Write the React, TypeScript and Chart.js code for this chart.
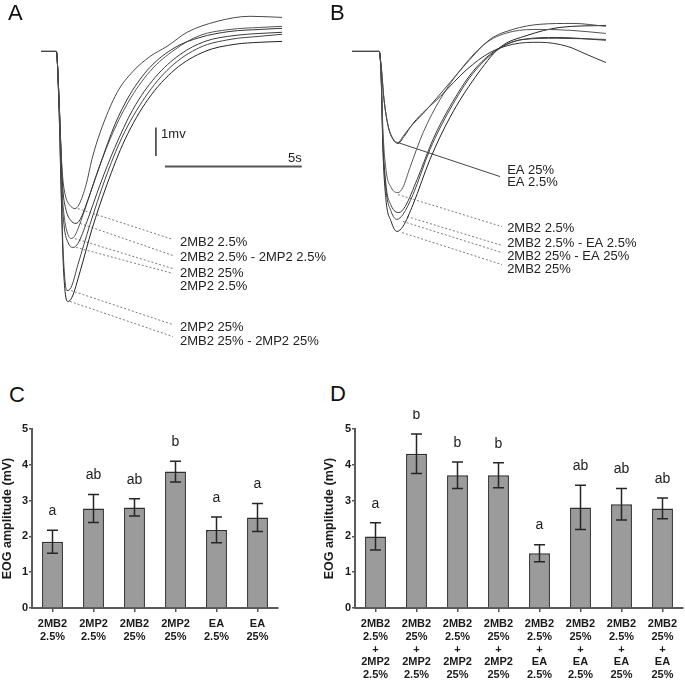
import React, { useEffect, useRef } from 'react';
import { Chart, registerables } from 'chart.js';

Chart.register(...registerables);

type Pt = [number, number];

// ---------- Panel A: EOG traces (time in s, potential in mV) ----------
const traceA_2MB2_2p5: Pt[] = [[0,0],[0.55,0],[0.58,-0.11],[0.66,-1.68],[0.73,-3.43],[0.80,-4.48],[0.91,-5.11],[1.06,-5.39],[1.24,-5.50],[1.39,-5.36],[1.65,-4.66],[1.86,-3.78],[2.16,-2.84],[2.78,-1.44],[3.36,-0.70],[3.98,-0.18],[4.61,0.18],[5.34,0.67],[6.43,1.05],[7.64,1.23],[8.81,1.19]];
const traceA_2MB2_2p5_2MP2_2p5: Pt[] = [[0,0],[0.55,0],[0.58,-0.11],[0.66,-1.68],[0.73,-3.43],[0.80,-4.83],[0.91,-5.53],[1.06,-5.88],[1.28,-6.02],[1.43,-5.88],[1.72,-5.18],[2.16,-3.96],[2.70,-2.56],[3.25,-1.51],[3.98,-0.56],[4.90,0.14],[5.81,0.49],[6.91,0.70],[8.00,0.77],[8.81,0.81]];
const traceA_2MB2_25: Pt[] = [[0,0],[0.55,0],[0.58,-0.11],[0.66,-1.75],[0.73,-3.60],[0.77,-4.83],[0.84,-5.71],[0.95,-6.30],[1.10,-6.55],[1.24,-6.44],[1.54,-5.71],[1.97,-4.48],[2.52,-3.08],[3.18,-1.79],[3.98,-0.70],[4.90,0.07],[5.81,0.56],[6.91,0.77],[8.00,0.84],[8.81,0.88]];
const traceA_2MP2_2p5: Pt[] = [[0,0],[0.55,0],[0.58,-0.11],[0.66,-1.75],[0.73,-3.60],[0.77,-5.01],[0.84,-6.06],[0.99,-6.69],[1.17,-6.86],[1.35,-6.72],[1.68,-5.95],[2.16,-4.66],[2.70,-3.36],[3.36,-2.03],[4.17,-0.91],[5.08,-0.11],[5.99,0.35],[7.09,0.56],[8.00,0.63],[8.81,0.67]];
const traceA_2MP2_25: Pt[] = [[0,0],[0.55,0],[0.58,-0.11],[0.66,-2.03],[0.73,-4.48],[0.80,-6.76],[0.88,-8.05],[0.95,-8.37],[1.10,-8.26],[1.35,-7.46],[1.79,-6.06],[2.34,-4.48],[2.96,-3.01],[3.80,-1.61],[4.72,-0.56],[5.81,0.14],[6.91,0.42],[8.00,0.53],[8.81,0.60]];
const traceA_2MB2_25_2MP2_25: Pt[] = [[0,0],[0.55,0],[0.58,-0.11],[0.66,-2.03],[0.73,-4.66],[0.80,-7.11],[0.88,-8.40],[0.99,-8.75],[1.13,-8.61],[1.43,-7.70],[1.86,-6.23],[2.41,-4.66],[3.07,-3.08],[3.91,-1.68],[4.90,-0.63],[5.99,0],[7.09,0.25],[8.00,0.32],[8.81,0.35]];

const labelsA = ['2MB2 2.5%', '2MB2 2.5% - 2MP2 2.5%', '2MB2 25%', '2MP2 2.5%', '2MP2 25%', '2MB2 25% - 2MP2 25%'];
const labelLevelsA = [-6.69, -7.21, -7.77, -8.23, -9.66, -10.15];
const leadersA: Pt[][] = [
  [[1.35,-5.50],[4.82,-6.58]],
  [[1.43,-6.02],[4.82,-7.14]],
  [[1.24,-6.55],[4.82,-7.60]],
  [[1.28,-6.86],[4.82,-7.77]],
  [[1.10,-8.37],[4.82,-9.56]],
  [[1.06,-8.75],[4.82,-9.98]],
];

// ---------- Panel B: EOG traces ----------
const traceB_EA_25: Pt[] = [[0,0],[0.99,0],[1.06,-0.46],[1.17,-1.68],[1.32,-2.59],[1.50,-3.05],[1.68,-3.19],[1.86,-2.98],[2.12,-2.66],[2.67,-2.10],[3.58,-1.09],[4.31,-0.28],[5.04,0.42],[5.88,0.77],[6.87,0.95],[8.08,0.98],[9.28,0.88]];
const traceB_EA_2p5: Pt[] = [[0,0],[0.99,0],[1.06,-0.46],[1.17,-1.68],[1.32,-2.62],[1.50,-3.08],[1.68,-3.22],[1.90,-2.98],[2.23,-2.52],[3.22,-1.58],[4.20,-0.63],[5.04,-0.04],[5.88,0.25],[6.87,0.32],[7.86,0.18],[8.59,-0.11],[9.28,-0.39]];
const traceB_2MB2_2p5: Pt[] = [[0,0],[0.99,0],[1.06,-0.63],[1.13,-2.73],[1.24,-4.13],[1.43,-4.76],[1.68,-4.94],[1.86,-4.76],[2.12,-4.06],[2.60,-2.84],[3.22,-1.68],[4.06,-0.53],[4.93,0.32],[5.88,0.70],[6.87,0.77],[7.97,0.74],[9.28,0.63]];
const traceB_2MB2_2p5_EA_2p5: Pt[] = [[0,0],[0.99,0],[1.06,-0.70],[1.13,-3.08],[1.24,-4.66],[1.43,-5.39],[1.72,-5.64],[1.94,-5.43],[2.38,-4.48],[2.96,-3.08],[3.58,-1.93],[4.42,-0.70],[5.30,0.07],[6.25,0.42],[7.49,0.49],[9.28,0.39]];
const traceB_2MB2_25_EA_25: Pt[] = [[0,0],[0.99,0],[1.06,-0.70],[1.13,-3.26],[1.24,-4.83],[1.43,-5.60],[1.64,-5.88],[1.86,-5.71],[2.23,-5.01],[2.85,-3.43],[3.58,-2.03],[4.42,-0.77],[5.30,0.04],[6.25,0.42],[7.49,0.46],[9.28,0.42]];
const traceB_2MB2_25: Pt[] = [[0,0],[0.99,0],[1.06,-0.77],[1.13,-3.43],[1.24,-5.18],[1.43,-5.95],[1.64,-6.30],[1.86,-6.13],[2.23,-5.36],[2.85,-3.78],[3.58,-2.31],[4.50,-0.91],[5.41,0.14],[6.40,0.56],[7.60,0.84],[9.28,0.91]];

const labelsB = ['EA 25%', 'EA 2.5%', '2MB2 2.5%', '2MB2 2.5% - EA 2.5%', '2MB2 25% - EA 25%', '2MB2 25%'];
const labelLevelsB = [-4.17, -4.59, -6.20, -6.72, -7.18, -7.63];
const solidLeadersB: Pt[][] = [[[1.68,-3.19],[5.41,-4.38]]];
const leadersB: Pt[][] = [
  [[1.68,-5.01],[5.48,-6.13]],
  [[2.01,-5.78],[5.48,-6.79]],
  [[1.86,-5.95],[5.48,-7.04]],
  [[1.83,-6.34],[5.48,-7.46]],
];

// scale bar (1 mV, 5 s)
const scaleBarV: Pt[] = [[4.20,-2.66],[4.20,-3.66]];
const scaleBarH: Pt[] = [[4.53,-4.03],[9.53,-4.03]];

// ---------- Panel C ----------
const compoundsC = ['2MB2', '2MP2', '2MB2', '2MP2', 'EA', 'EA'];
const concC = ['2.5%', '2.5%', '25%', '25%', '2.5%', '25%'];
const meanC = [1.85, 2.78, 2.81, 3.81, 2.18, 2.53];
const semC = [0.32, 0.39, 0.24, 0.29, 0.36, 0.39];
const sigC = ['a', 'ab', 'ab', 'b', 'a', 'a'];

// ---------- Panel D ----------
const firstD = ['2MB2', '2MB2', '2MB2', '2MB2', '2MB2', '2MB2', '2MB2', '2MB2'];
const firstConcD = ['2.5%', '25%', '2.5%', '25%', '2.5%', '25%', '2.5%', '25%'];
const secondD = ['2MP2', '2MP2', '2MP2', '2MP2', 'EA', 'EA', 'EA', 'EA'];
const secondConcD = ['2.5%', '2.5%', '25%', '25%', '2.5%', '2.5%', '25%', '25%'];
const meanD = [2.0, 4.31, 3.71, 3.71, 1.53, 2.81, 2.90, 2.78];
const semD = [0.38, 0.55, 0.37, 0.35, 0.24, 0.62, 0.44, 0.29];
const sigD = ['a', 'b', 'b', 'b', 'a', 'ab', 'ab', 'ab'];

const FONT = "Arial, 'Liberation Sans', sans-serif";
const toXY = (a: Pt[]) => a.map(([x, y]) => ({ x, y }));

type Note = { x: number; y: number; text: string; align?: CanvasTextAlign };

const notesPlugin = (notes: Note[]) => ({
  id: 'notes',
  afterDatasetsDraw(chart: any) {
    const { ctx, scales } = chart;
    ctx.save();
    ctx.font = `13px ${FONT}`;
    ctx.fillStyle = '#222';
    ctx.textBaseline = 'middle';
    for (const n of notes) {
      ctx.textAlign = n.align || 'left';
      ctx.fillText(n.text, scales.x.getPixelForValue(n.x), scales.y.getPixelForValue(n.y));
    }
    ctx.restore();
  },
});

const TRACE_COLORS = ['#4a4a4a', '#333', '#555', '#3a3a3a', '#444', '#222'];

function traceConfig(xMin: number, traces: Pt[][], dashed: Pt[][], solid: Pt[][], notes: Note[], bar: boolean) {
  const datasets: any[] = traces.map((t, i) => ({
    data: toXY(t),
    borderColor: TRACE_COLORS[i % TRACE_COLORS.length],
    borderWidth: 1,
    pointRadius: 0,
    cubicInterpolationMode: 'monotone',
    fill: false,
  }));
  dashed.forEach((l) => datasets.push({ data: toXY(l), borderColor: '#7a7a7a', borderWidth: 1, borderDash: [2, 2], pointRadius: 0, tension: 0 }));
  solid.forEach((l) => datasets.push({ data: toXY(l), borderColor: '#444', borderWidth: 1, pointRadius: 0, tension: 0 }));
  if (bar) {
    datasets.push({ data: toXY(scaleBarV), borderColor: '#333', borderWidth: 1.5, pointRadius: 0, tension: 0 });
    datasets.push({ data: toXY(scaleBarH), borderColor: '#555', borderWidth: 2, pointRadius: 0, tension: 0 });
  }
  return {
    type: 'line',
    data: { datasets },
    options: {
      animation: false,
      responsive: false,
      devicePixelRatio: 1,
      events: [],
      layout: { padding: 0 },
      scales: {
        x: { type: 'linear', display: false, min: xMin, max: xMin + 12.5 },
        y: { type: 'linear', display: false, min: -10.8, max: 1.8 },
      },
      plugins: { legend: { display: false }, tooltip: { enabled: false } },
    },
    plugins: [notesPlugin(notes)],
  };
}

const errorPlugin = (means: number[], sems: number[], sig: string[]) => ({
  id: 'errbars',
  afterDatasetsDraw(chart: any) {
    const { ctx, scales } = chart;
    const y = scales.y;
    const meta = chart.getDatasetMeta(0);
    ctx.save();
    meta.data.forEach((bar: any, i: number) => {
      const x = bar.x;
      const top = y.getPixelForValue(means[i] + sems[i]);
      const bot = y.getPixelForValue(means[i] - sems[i]);
      ctx.strokeStyle = '#262626';
      ctx.lineWidth = 1.5;
      ctx.beginPath();
      ctx.moveTo(x, top); ctx.lineTo(x, bot);
      ctx.moveTo(x - 5.5, top); ctx.lineTo(x + 5.5, top);
      ctx.moveTo(x - 5.5, bot); ctx.lineTo(x + 5.5, bot);
      ctx.stroke();
      ctx.fillStyle = '#222';
      ctx.font = `14px ${FONT}`;
      ctx.textAlign = 'center';
      ctx.textBaseline = 'middle';
      ctx.fillText(sig[i], x, top - 19);
    });
    ctx.restore();
  },
});

function barConfig(labels: string[][], means: number[], sems: number[], sig: string[], yWidth: number, padRight: number) {
  return {
    type: 'bar',
    data: {
      labels,
      datasets: [{
        data: means,
        backgroundColor: '#9b9b9b',
        borderColor: '#2e2e2e',
        borderWidth: 1.5,
        barPercentage: 0.51,
        categoryPercentage: 1,
      }],
    },
    options: {
      animation: false,
      responsive: false,
      devicePixelRatio: 1,
      events: [],
      layout: { padding: { top: 19, right: padRight, left: 0, bottom: 0 } },
      plugins: { legend: { display: false }, tooltip: { enabled: false } },
      scales: {
        x: {
          grid: { display: true, offset: false, drawOnChartArea: false, drawTicks: true, tickLength: 4, color: '#555', lineWidth: 1.5 },
          border: { display: true, color: '#5a5a5a', width: 2 },
          ticks: { font: { family: FONT, size: 11, weight: 'bold', lineHeight: 1.15 }, color: '#1a1a1a', padding: 6, maxRotation: 0, autoSkip: false },
          afterFit: (s: any) => { s.height = 74; },
        },
        y: {
          min: 0,
          max: 5,
          ticks: { stepSize: 1, font: { family: FONT, size: 11, weight: 'bold' }, color: '#1a1a1a', padding: 1 },
          grid: { drawOnChartArea: false, tickLength: 3, color: '#555', lineWidth: 1.5 },
          border: { display: true, color: '#5a5a5a', width: 2 },
          title: { display: true, text: 'EOG amplitude (mV)', font: { family: FONT, size: 12.5, weight: 'bold' }, color: '#1a1a1a', padding: { top: 0, bottom: 0 } },
          afterFit: (s: any) => { s.width = yWidth; },
        },
      },
    },
    plugins: [errorPlugin(means, sems, sig)],
  };
}

function ChartCanvas({ make, left, top, width, height }: { make: () => any; left: number; top: number; width: number; height: number }) {
  const ref = useRef<HTMLCanvasElement>(null);
  useEffect(() => {
    const chart = new Chart(ref.current as HTMLCanvasElement, make());
    return () => chart.destroy();
  }, []);
  return (
    <canvas
      ref={ref}
      width={width}
      height={height}
      style={{ position: 'absolute', left, top, width, height }}
    />
  );
}

const letterStyle = (left: number, top: number): React.CSSProperties => ({
  position: 'absolute', left, top, fontFamily: FONT, fontSize: 22, lineHeight: '22px', color: '#111',
});

export default function App() {
  const notesA: Note[] = labelsA.map((t, i) => ({ x: 5.08, y: labelLevelsA[i], text: t }));
  notesA.push({ x: 4.39, y: -2.91, text: '1mv' });
  notesA.push({ x: 9.53, y: -3.75, text: '5s', align: 'right' });
  const notesB: Note[] = labelsB.map((t, i) => ({ x: 5.67, y: labelLevelsB[i], text: t }));

  const tracesA = [traceA_2MB2_2p5, traceA_2MB2_2p5_2MP2_2p5, traceA_2MB2_25, traceA_2MP2_2p5, traceA_2MP2_25, traceA_2MB2_25_2MP2_25];
  const tracesB = [traceB_EA_25, traceB_EA_2p5, traceB_2MB2_2p5, traceB_2MB2_2p5_EA_2p5, traceB_2MB2_25_EA_25, traceB_2MB2_25];

  const labelsC = compoundsC.map((c, i) => [c, concC[i]]);
  const labelsD = firstD.map((c, i) => [c, firstConcD[i], '+', secondD[i], secondConcD[i]]);

  return (
    <div style={{ position: 'absolute', left: 0, top: 0, width: 685, height: 682, background: '#fff', overflow: 'hidden' }}>
      <ChartCanvas left={0} top={0} width={342} height={360} make={() => traceConfig(-41 / 27.36, tracesA, leadersA, [], notesA, true)} />
      <ChartCanvas left={342} top={0} width={342} height={360} make={() => traceConfig(-10 / 27.36, tracesB, leadersB, solidLeadersB, notesB, false)} />
      <ChartCanvas left={0} top={410} width={290} height={272} make={() => barConfig(labelsC, meanC, semC, sigC, 32, 12)} />
      <ChartCanvas left={322} top={410} width={363} height={272} make={() => barConfig(labelsD, meanD, semD, sigD, 33, 2)} />
      <div style={letterStyle(8, 2)}>A</div>
      <div style={letterStyle(330, 2)}>B</div>
      <div style={letterStyle(9, 384)}>C</div>
      <div style={letterStyle(330, 383)}>D</div>
    </div>
  );
}
